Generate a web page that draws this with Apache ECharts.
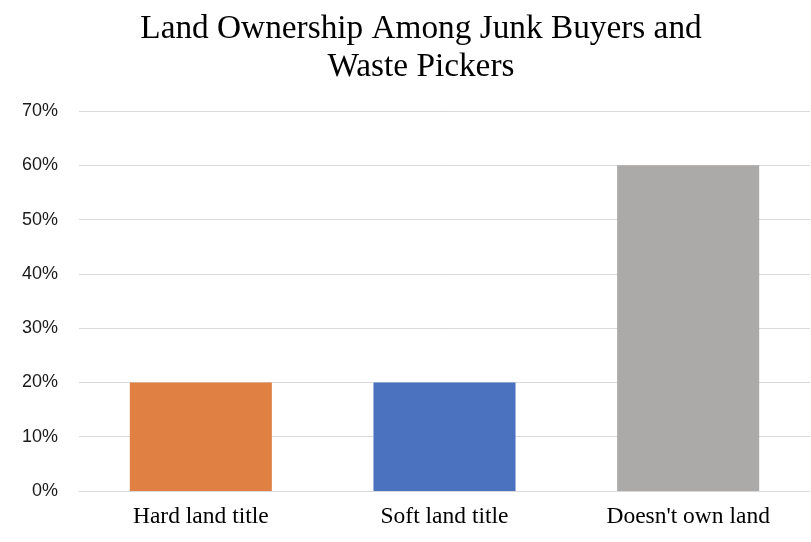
<!DOCTYPE html>
<html>
<head>
<meta charset="utf-8">
<style>
  html, body { margin: 0; padding: 0; background: #fff; }
  #chart { width: 811px; height: 542px; }
</style>
<script src="https://cdn.jsdelivr.net/npm/echarts@6/dist/echarts.min.js"></script>
</head>
<body>
<div id="chart"></div>
<script>
// Land ownership shares by category
const categories = ["Hard land title", "Soft land title", "Doesn't own land"];
const shares = [0.20, 0.20, 0.60];
const yTickLabels = ["0%", "10%", "20%", "30%", "40%", "50%", "60%", "70%"];

const barColors = ["#E08143", "#4B72BE", "#ABAAA9"];

const chart = echarts.init(document.getElementById('chart'), null, { renderer: 'canvas' });

chart.setOption({
  animation: false,
  backgroundColor: '#ffffff',
  title: {
    text: 'Land Ownership Among Junk Buyers and\nWaste Pickers',
    left: 416,
    top: 5,
    textAlign: 'center',
    textStyle: {
      fontFamily: '"Liberation Serif", "Times New Roman", serif',
      fontSize: 33.3,
      fontWeight: 'normal',
      color: '#000000',
      lineHeight: 38
    }
  },
  grid: {
    left: 79,
    right: 1,
    top: 111,
    bottom: 51,
    containLabel: false
  },
  xAxis: {
    type: 'category',
    data: categories,
    axisLine: { show: true, lineStyle: { color: '#D9D9D9', width: 1 } },
    axisTick: { show: false },
    axisLabel: {
      margin: 14,
      fontFamily: '"Liberation Serif", "Times New Roman", serif',
      fontSize: 23.5,
      color: '#000000'
    }
  },
  yAxis: {
    type: 'value',
    min: 0,
    max: 0.7,
    interval: 0.1,
    axisLine: { show: false },
    axisTick: { show: false },
    splitLine: { show: true, lineStyle: { color: '#D9D9D9', width: 1 } },
    axisLabel: {
      margin: 21,
      fontFamily: '"Liberation Sans", Arial, sans-serif',
      fontSize: 18,
      color: '#1a1a1a',
      formatter: function (v) {
        return yTickLabels[Math.round(v * 10)];
      }
    }
  },
  series: [{
    type: 'bar',
    barWidth: '58.3%',
    data: shares.map(function (v, i) {
      return { value: v, itemStyle: { color: barColors[i] } };
    })
  }]
});
</script>
</body>
</html>
